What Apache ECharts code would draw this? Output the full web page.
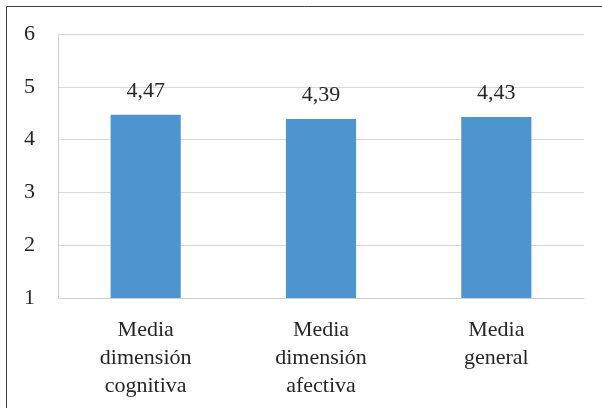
<!DOCTYPE html>
<html lang="es">
<head>
    <meta charset="UTF-8">
    <title>Medias</title>
    <style>
        body { margin: 0; background: #fff; }
        #main { width: 602px; height: 408px; }
    </style>
</head>
<body>
<div id="main"></div>
<script src="https://cdn.jsdelivr.net/npm/echarts@6/dist/echarts.min.js"></script>
<script>
    var categories = ['Media\ndimensión\ncognitiva', 'Media\ndimensión\nafectiva', 'Media\ngeneral'];
    var values = [4.47, 4.39, 4.43];
    var yTicks = [1, 2, 3, 4, 5, 6];

    var myChart = echarts.init(document.getElementById('main'));
    var font = '"Liberation Serif", "Times New Roman", serif';

    var option = {
        animation: false,
        textStyle: { fontFamily: font },
        graphic: [
            {
                // marco exterior (solo borde izquierdo y superior visibles)
                type: 'rect',
                silent: true,
                shape: { x: 6.5, y: 6.5, width: 700, height: 500 },
                style: { fill: 'none', stroke: '#404040', lineWidth: 1 }
            }
        ],
        grid: {
            left: 58,
            right: 18,
            top: 34,
            bottom: 110
        },
        xAxis: {
            type: 'category',
            data: categories,
            axisLine: { lineStyle: { color: '#d0d0d0', width: 1 } },
            axisTick: { show: false },
            axisLabel: {
                fontFamily: font,
                fontSize: 22,
                color: '#262626',
                lineHeight: 28,
                margin: 18
            }
        },
        yAxis: {
            type: 'value',
            min: yTicks[0],
            max: yTicks[yTicks.length - 1],
            interval: 1,
            axisLine: { show: true, lineStyle: { color: '#d0d0d0', width: 1 } },
            axisTick: { show: false },
            splitLine: { lineStyle: { color: '#d9d9d9', width: 1 } },
            axisLabel: {
                fontFamily: font,
                fontSize: 22,
                color: '#262626',
                margin: 23
            }
        },
        series: [
            {
                type: 'bar',
                data: values,
                barWidth: '40%',
                itemStyle: { color: '#4e95d0' },
                label: {
                    show: true,
                    position: 'top',
                    distance: 13,
                    fontFamily: font,
                    fontSize: 22,
                    color: '#262626',
                    formatter: function (p) {
                        return p.value.toFixed(2).replace('.', ',');
                    }
                }
            }
        ]
    };
    myChart.setOption(option);
</script>
</body>
</html>
